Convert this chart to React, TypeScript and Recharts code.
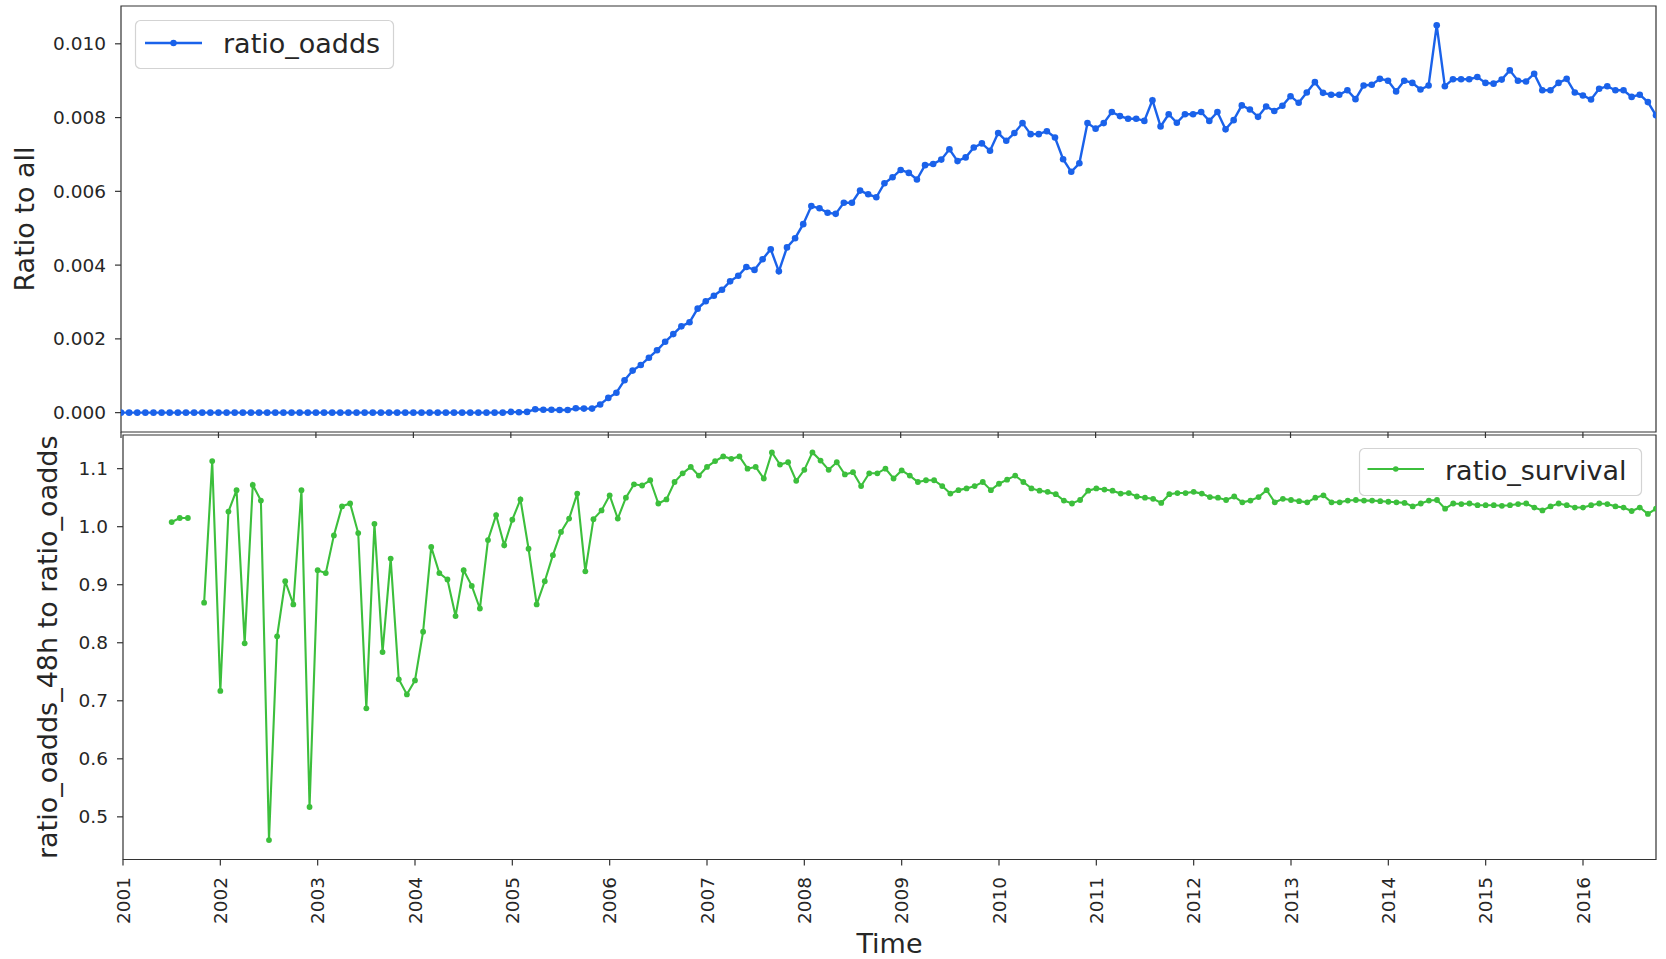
import React from 'react';
import { LineChart, Line, XAxis, YAxis, ReferenceArea, Legend } from 'recharts';

// ---------- data ----------
const START_YEAR = 2001;
const YEAR_LABELS = ['2001', '2002', '2003', '2004', '2005', '2006', '2007', '2008', '2009', '2010', '2011', '2012', '2013', '2014', '2015', '2016'];

const TOP_TICKS = [0, 0.002, 0.004, 0.006, 0.008, 0.01];
const BOTTOM_TICKS = [0.5, 0.6, 0.7, 0.8, 0.9, 1.0, 1.1];

// monthly ratio_oadds, 2001-01 .. 2016-10
const RATIO_OADDS: number[] = [
  0, 0, 0, 0, 0, 0, 0, 0, 0, 0, 0, 0, // 2001
  0, 0, 0, 0, 0, 0, 0, 0, 0, 0, 0, 0, // 2002
  0, 0, 0, 0, 0, 0, 0, 0, 0, 0, 0, 0, // 2003
  0, 0, 0, 0, 0, 0, 0, 0, 0, 0, 0, 0, // 2004
  0.00002, 0.00001, 0.00002, 0.00009, 0.00008, 0.00008, 0.00007, 0.00007, 0.00012, 0.00011, 0.00011, 0.00022, // 2005
  0.0004, 0.00054, 0.00088, 0.00114, 0.00129, 0.00149, 0.00169, 0.00192, 0.00213, 0.00234, 0.00245, 0.00282, // 2006
  0.00302, 0.00317, 0.00333, 0.00356, 0.00371, 0.00395, 0.00387, 0.00416, 0.00443, 0.00383, 0.00448, 0.00473, // 2007
  0.00511, 0.0056, 0.00554, 0.00542, 0.00539, 0.00569, 0.00569, 0.00602, 0.00592, 0.00584, 0.00622, 0.00638, // 2008
  0.00658, 0.0065, 0.00632, 0.00671, 0.00674, 0.00686, 0.00714, 0.00682, 0.00692, 0.00719, 0.0073, 0.0071, // 2009
  0.00758, 0.00737, 0.00758, 0.00785, 0.00755, 0.00755, 0.00763, 0.00746, 0.00687, 0.00653, 0.00676, 0.00785, // 2010
  0.0077, 0.00785, 0.00815, 0.00804, 0.00797, 0.00797, 0.00791, 0.00847, 0.00776, 0.00809, 0.00786, 0.00809, // 2011
  0.00809, 0.00815, 0.00791, 0.00815, 0.00768, 0.00793, 0.00833, 0.00822, 0.00802, 0.0083, 0.00818, 0.00832, // 2012
  0.00858, 0.0084, 0.00868, 0.00896, 0.00867, 0.00862, 0.00862, 0.00874, 0.0085, 0.00887, 0.00889, 0.00905, // 2013
  0.009, 0.00871, 0.009, 0.00894, 0.00876, 0.00887, 0.0105, 0.00885, 0.00904, 0.00904, 0.00904, 0.0091, // 2014
  0.00894, 0.00892, 0.00903, 0.00928, 0.009, 0.00898, 0.00919, 0.00874, 0.00874, 0.00894, 0.00905, 0.00868, // 2015
  0.0086, 0.00849, 0.00878, 0.00885, 0.00874, 0.00874, 0.00856, 0.00862, 0.00842, 0.00806, // 2016
];

// monthly ratio_survival (ratio_oadds_48h / ratio_oadds), null = missing
const RATIO_SURVIVAL: (number | null)[] = [
  null, null, null, null, null, null, 1.008, 1.015, 1.015, null, 0.869, 1.113, // 2001
  0.717, 1.026, 1.063, 0.799, 1.072, 1.045, 0.46, 0.811, 0.906, 0.866, 1.063, 0.517, // 2002
  0.925, 0.92, 0.985, 1.035, 1.04, 0.989, 0.687, 1.005, 0.784, 0.945, 0.737, 0.711, // 2003
  0.735, 0.819, 0.965, 0.92, 0.909, 0.846, 0.925, 0.898, 0.859, 0.977, 1.02, 0.968, // 2004
  1.012, 1.047, 0.962, 0.866, 0.906, 0.951, 0.991, 1.014, 1.057, 0.923, 1.013, 1.028, // 2005
  1.054, 1.014, 1.05, 1.073, 1.071, 1.08, 1.04, 1.047, 1.077, 1.092, 1.103, 1.088, // 2006
  1.103, 1.113, 1.121, 1.117, 1.121, 1.1, 1.103, 1.083, 1.128, 1.107, 1.111, 1.079, // 2007
  1.098, 1.128, 1.114, 1.098, 1.111, 1.09, 1.094, 1.07, 1.092, 1.092, 1.1, 1.083, // 2008
  1.097, 1.088, 1.077, 1.08, 1.08, 1.07, 1.057, 1.063, 1.066, 1.07, 1.077, 1.063, // 2009
  1.074, 1.081, 1.088, 1.077, 1.066, 1.062, 1.06, 1.056, 1.045, 1.04, 1.046, 1.062, // 2010
  1.066, 1.064, 1.062, 1.057, 1.058, 1.052, 1.05, 1.048, 1.041, 1.056, 1.058, 1.058, // 2011
  1.06, 1.057, 1.051, 1.05, 1.046, 1.052, 1.042, 1.045, 1.051, 1.063, 1.042, 1.048, // 2012
  1.046, 1.044, 1.042, 1.05, 1.054, 1.042, 1.042, 1.045, 1.046, 1.045, 1.045, 1.044, // 2013
  1.043, 1.042, 1.041, 1.035, 1.04, 1.045, 1.046, 1.031, 1.04, 1.039, 1.04, 1.037, // 2014
  1.037, 1.037, 1.036, 1.037, 1.039, 1.04, 1.033, 1.028, 1.035, 1.04, 1.037, 1.033, // 2015
  1.033, 1.037, 1.04, 1.039, 1.035, 1.033, 1.027, 1.033, 1.022, 1.031, // 2016
];

const MONTHS = RATIO_OADDS.map(
  (_, i) => `${START_YEAR + Math.floor(i / 12)}-${String((i % 12) + 1).padStart(2, '0')}`
);
const DATA = MONTHS.map((month, i) => ({
  idx: i,
  month,
  ratio_oadds: RATIO_OADDS[i],
  ratio_survival: RATIO_SURVIVAL[i],
}));
const YEAR_TICKS = YEAR_LABELS.map((_, i) => i * 12);
const X_DOMAIN: [number, number] = [0, MONTHS.length - 1];
const TOP_DOMAIN: [number, number] = [-0.000525, 0.011025];
const BOTTOM_DOMAIN: [number, number] = [0.4265, 1.158];

// ---------- style ----------
const FONT = '"DejaVu Sans", Verdana, sans-serif';
const BLUE = '#1a62ea';
const GREEN = '#3cbf3c';
const AXIS = '#333333';
const TEXT = '#262626';
const TICK_FONT = 18.5;
const LABEL_FONT = 27;

const EmptyTick = () => null;

const YearTick = (props: any) => {
  const { x, y, payload } = props;
  const label = YEAR_LABELS[Math.round(payload.value / 12)];
  return (
    <g transform={`translate(${x},${y}) rotate(-90)`}>
      <text x={0} y={0} dy="0.36em" textAnchor="end" fontSize={TICK_FONT} fill={TEXT} fontFamily={FONT}>
        {label}
      </text>
    </g>
  );
};

const YLabel = (props: any) => {
  const { viewBox, text, baseX } = props;
  const cy = viewBox ? viewBox.y + viewBox.height / 2 : 0;
  return (
    <text
      transform={`translate(${baseX},${cy}) rotate(-90)`}
      textAnchor="middle"
      fontSize={LABEL_FONT}
      fill={TEXT}
      fontFamily={FONT}
    >
      {text}
    </text>
  );
};

const XLabel = (props: any) => {
  const { viewBox, text, baseDy } = props;
  const cx = viewBox ? viewBox.x + viewBox.width / 2 : 0;
  const y = viewBox ? viewBox.y + baseDy : 0;
  return (
    <text x={cx} y={y} textAnchor="middle" fontSize={LABEL_FONT} fill={TEXT} fontFamily={FONT}>
      {text}
    </text>
  );
};

const makeLegend = (name: string, color: string, w: number, h: number, lineX1: number, lineX2: number, lineY: number, textX: number, textY: number, dotR: number, lineW: number) => () => (
  <svg width={w} height={h} style={{ display: 'block', overflow: 'visible' }}>
    <rect x={0.5} y={0.5} width={w - 1} height={h - 1} rx={5} ry={5} fill="#ffffff" fillOpacity={0.85} stroke="#d3d3d3" strokeWidth={1.2} />
    <line x1={lineX1} y1={lineY} x2={lineX2} y2={lineY} stroke={color} strokeWidth={lineW} />
    <circle cx={(lineX1 + lineX2) / 2} cy={lineY} r={dotR} fill={color} />
    <text x={textX} y={textY} fontSize={LABEL_FONT} fill={TEXT} fontFamily={FONT}>
      {name}
    </text>
  </svg>
);

const TopLegend = makeLegend('ratio_oadds', BLUE, 259, 49, 10, 67, 23, 88, 33, 3.2, 2.4);
const BottomLegend = makeLegend('ratio_survival', GREEN, 283, 48, 8.5, 65, 21, 86, 32, 2.8, 2.1);

export default function App() {
  return (
    <div style={{ position: 'absolute', left: 0, top: 0, width: 1666, height: 959, background: '#ffffff', fontFamily: FONT }}>
      <div style={{ position: 'absolute', left: 0, top: 0 }}>
        <LineChart width={1666} height={445} data={DATA} margin={{ top: 6, right: 10, bottom: 0, left: 0 }}>
          <XAxis
            dataKey="idx"
            type="number"
            domain={X_DOMAIN}
            ticks={YEAR_TICKS}
            interval={0}
            allowDataOverflow
            height={13}
            tick={EmptyTick}
            tickSize={6}
            tickLine={{ stroke: AXIS, strokeWidth: 1.2 }}
            axisLine={false}
          />
          <YAxis
            type="number"
            domain={TOP_DOMAIN}
            ticks={TOP_TICKS}
            interval={0}
            allowDataOverflow
            width={121}
            tickSize={6}
            tickMargin={9}
            tickFormatter={(v: number) => v.toFixed(3)}
            tick={{ fontSize: TICK_FONT, fill: TEXT, fontFamily: FONT }}
            tickLine={{ stroke: AXIS, strokeWidth: 1.2 }}
            axisLine={false}
            label={<YLabel text="Ratio to all" baseX={34} />}
          />
          <ReferenceArea
            x1={X_DOMAIN[0]}
            x2={X_DOMAIN[1]}
            y1={TOP_DOMAIN[0]}
            y2={TOP_DOMAIN[1]}
            fill="none"
            stroke={AXIS}
            strokeWidth={1.2}
            ifOverflow="visible"
          />
          <Line
            dataKey="ratio_oadds"
            name="ratio_oadds"
            type="linear"
            stroke={BLUE}
            strokeWidth={2.4}
            dot={{ r: 3.3, fill: BLUE, stroke: BLUE, strokeWidth: 0 }}
            activeDot={false}
            isAnimationActive={false}
          />
          <Legend
            layout="horizontal"
            verticalAlign="middle"
            align="center"
            content={TopLegend}
            wrapperStyle={{ left: 135, top: 20, width: 259, height: 49 }}
          />
        </LineChart>
      </div>
      <div style={{ position: 'absolute', left: 0, top: 430 }}>
        <LineChart width={1666} height={529} data={DATA} margin={{ top: 5, right: 10, bottom: 0, left: 0 }}>
          <XAxis
            dataKey="idx"
            type="number"
            domain={X_DOMAIN}
            ticks={YEAR_TICKS}
            interval={0}
            allowDataOverflow
            height={99.5}
            tick={<YearTick />}
            tickSize={6}
            tickMargin={11.5}
            tickLine={{ stroke: AXIS, strokeWidth: 1.2 }}
            axisLine={false}
            label={<XLabel text="Time" baseDy={93.5} />}
          />
          <YAxis
            type="number"
            domain={BOTTOM_DOMAIN}
            ticks={BOTTOM_TICKS}
            interval={0}
            allowDataOverflow
            width={123}
            tickSize={6}
            tickMargin={9}
            tickFormatter={(v: number) => v.toFixed(1)}
            tick={{ fontSize: TICK_FONT, fill: TEXT, fontFamily: FONT }}
            tickLine={{ stroke: AXIS, strokeWidth: 1.2 }}
            axisLine={false}
            label={<YLabel text="ratio_oadds_48h to ratio_oadds" baseX={57} />}
          />
          <ReferenceArea
            x1={X_DOMAIN[0]}
            x2={X_DOMAIN[1]}
            y1={BOTTOM_DOMAIN[0]}
            y2={BOTTOM_DOMAIN[1]}
            fill="none"
            stroke={AXIS}
            strokeWidth={1.2}
            ifOverflow="visible"
          />
          <Line
            dataKey="ratio_survival"
            name="ratio_survival"
            type="linear"
            stroke={GREEN}
            strokeWidth={2.1}
            dot={{ r: 2.9, fill: GREEN, stroke: GREEN, strokeWidth: 0 }}
            activeDot={false}
            connectNulls={false}
            isAnimationActive={false}
          />
          <Legend
            layout="horizontal"
            verticalAlign="middle"
            align="center"
            content={BottomLegend}
            wrapperStyle={{ left: 1359, top: 18, width: 283, height: 48 }}
          />
        </LineChart>
      </div>
    </div>
  );
}
